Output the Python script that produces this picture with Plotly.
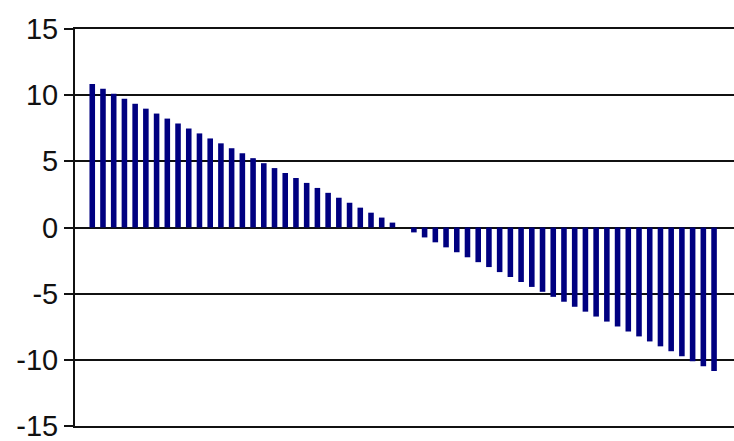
import plotly.graph_objects as go

index = list(range(59))
values = [
    10.85, 10.48, 10.10, 9.73, 9.35, 8.98, 8.61, 8.23, 7.86, 7.48,
    7.11, 6.73, 6.36, 5.99, 5.61, 5.24, 4.86, 4.49, 4.12, 3.74,
    3.37, 2.99, 2.62, 2.25, 1.87, 1.50, 1.12, 0.75, 0.37, 0.00,
    -0.37, -0.75, -1.12, -1.50, -1.87, -2.25, -2.62, -2.99, -3.37, -3.74,
    -4.12, -4.49, -4.86, -5.24, -5.61, -5.99, -6.36, -6.73, -7.11, -7.48,
    -7.86, -8.23, -8.61, -8.98, -9.35, -9.73, -10.10, -10.48, -10.85,
]
y_ticks = [-15, -10, -5, 0, 5, 10, 15]
y_tick_labels = ["-15", "-10", "-5", "0", "5", "10", "15"]

fig = go.Figure(
    go.Bar(x=index, y=values, width=0.52, marker=dict(color="#000080", line=dict(width=0)),
           hoverinfo="skip")
)
fig.update_layout(
    width=734, height=441,
    margin=dict(l=75, r=0, t=29, b=15, autoexpand=False),
    paper_bgcolor="white", plot_bgcolor="white",
    showlegend=False,
    font=dict(family="Liberation Sans, Arial, sans-serif", size=29, color="#111111"),
)
fig.update_xaxes(range=[-1.61, 59.86], showticklabels=False, showgrid=False,
                 zeroline=False, showline=True, mirror=True, linecolor="#111111",
                 linewidth=2, ticks="", automargin=False)
fig.update_yaxes(range=[-15, 15], tickvals=y_ticks, ticktext=y_tick_labels,
                 showgrid=True, gridcolor="#111111", gridwidth=2, zeroline=False,
                 showline=True, linecolor="#111111", linewidth=2,
                 ticks="outside", ticklen=9, tickwidth=2, tickcolor="#111111",
                 ticklabeloverflow="allow", automargin=False)
fig.write_html("out.html", config={"displayModeBar": False},
               post_script="document.body.style.margin='0';document.body.style.overflow='hidden';")
